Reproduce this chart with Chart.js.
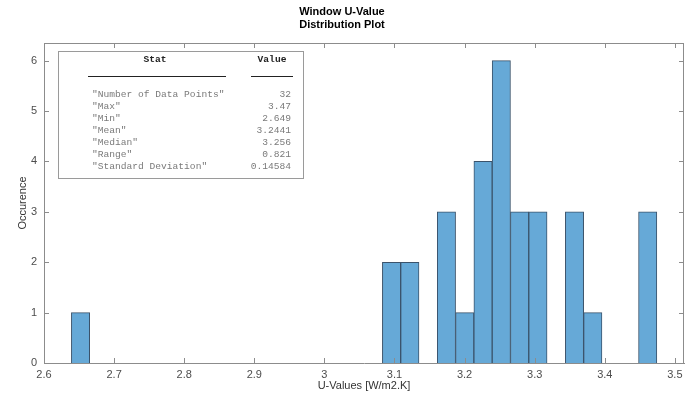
<!DOCTYPE html>
<html lang="en">
<head>
  <meta charset="UTF-8" />
  <title>Window U-Value Distribution Plot</title>
  <script src="https://cdn.jsdelivr.net/npm/chart.js@4.4.1/dist/chart.umd.min.js"></script>
  <style>html,body{margin:0;padding:0;background:#fff}</style>
</head>
<body>
  <canvas id="histChart" width="690" height="399"></canvas>
<script>
  // bin centres (W/m2.K) and how many windows fall in each bin
  const binCenters = [
    2.6521, 2.6782, 2.7043, 2.7304, 2.7565, 2.7826, 2.8087, 2.8348,
    2.8609, 2.8870, 2.9131, 2.9392, 2.9653, 2.9914, 3.0175, 3.0436,
    3.0697, 3.0958, 3.1219, 3.1480, 3.1741, 3.2002, 3.2263, 3.2524,
    3.2785, 3.3046, 3.3307, 3.3568, 3.3829, 3.4090, 3.4351, 3.4612
  ];
  const binCounts = [
    1, 0, 0, 0, 0, 0, 0, 0,
    0, 0, 0, 0, 0, 0, 0, 0,
    0, 2, 2, 0, 3, 1, 4, 6,
    3, 3, 0, 3, 1, 0, 0, 3
  ];
  const xTicks = [2.6, 2.7, 2.8, 2.9, 3, 3.1, 3.2, 3.3, 3.4, 3.5];
  const yTicks = [0, 1, 2, 3, 4, 5, 6];
  const statNames = ['"Number of Data Points"', '"Max"', '"Min"', '"Mean"', '"Median"', '"Range"', '"Standard Deviation"'];
  const statValues = ['32', '3.47', '2.649', '3.2441', '3.256', '0.821', '0.14584'];

  const AXIS = '#8c8c8c';
  const SANS = "'Liberation Sans', Arial, sans-serif";
  const MONO = "'Liberation Mono', 'DejaVu Sans Mono', monospace";

  // box ticks (inward, on all four sides) and the stats table
  const decorations = {
    id: 'decorations',
    afterDraw(chart) {
      const {ctx, chartArea: {left, right, top, bottom}, scales: {x, y}} = chart;
      ctx.save();
      ctx.strokeStyle = AXIS;
      ctx.lineWidth = 1;
      ctx.beginPath();
      ctx.moveTo(left, top + 0.5); ctx.lineTo(right, top + 0.5);
      ctx.moveTo(right - 0.5, top); ctx.lineTo(right - 0.5, bottom);
      xTicks.forEach(v => {
        const px = Math.round(x.getPixelForValue(v)) + 0.5;
        ctx.moveTo(px, bottom); ctx.lineTo(px, bottom - 5);
        ctx.moveTo(px, top); ctx.lineTo(px, top + 5);
      });
      yTicks.forEach(v => {
        const py = Math.round(y.getPixelForValue(v)) + 0.5;
        ctx.moveTo(left, py); ctx.lineTo(left + 5, py);
        ctx.moveTo(right, py); ctx.lineTo(right - 5, py);
      });
      ctx.stroke();

      // stats table
      ctx.fillStyle = '#fff';
      ctx.fillRect(58, 51, 245, 127);
      ctx.strokeStyle = '#9a9a9a';
      ctx.strokeRect(58.5, 51.5, 245, 127);
      ctx.fillStyle = '#222';
      ctx.font = 'bold 9.6px ' + MONO;
      ctx.textBaseline = 'middle';
      ctx.textAlign = 'center';
      ctx.fillText('Stat', 155, 60);
      ctx.fillText('Value', 272, 60);
      ctx.strokeStyle = '#222';
      ctx.lineWidth = 1.2;
      ctx.beginPath();
      ctx.moveTo(88, 76.5); ctx.lineTo(226, 76.5);
      ctx.moveTo(251, 76.5); ctx.lineTo(293, 76.5);
      ctx.stroke();
      ctx.font = '9.6px ' + MONO;
      ctx.fillStyle = '#7a7a7a';
      statNames.forEach((name, i) => {
        const ty = 94 + i * 12;
        ctx.textAlign = 'left';
        ctx.fillText(name, 92, ty);
        ctx.textAlign = 'right';
        ctx.fillText(statValues[i], 291, ty);
      });
      ctx.restore();
    }
  };

  new Chart(document.getElementById('histChart'), {
    type: 'bar',
    data: {
      datasets: [{
        data: binCenters.map((c, i) => ({x: c, y: binCounts[i] || null})),
        backgroundColor: '#66a9d7',
        borderColor: '#3b536b',
        borderWidth: 1,
        barPercentage: 1,
        categoryPercentage: 1
      }]
    },
    options: {
      responsive: false,
      animation: false,
      layout: {padding: {left: 0, right: 6, top: 0, bottom: 0}},
      plugins: {
        legend: {display: false},
        tooltip: {enabled: false},
        title: {
          display: true,
          text: ['Window U-Value', 'Distribution Plot'],
          color: '#000',
          font: {family: SANS, size: 11, weight: 'bold', lineHeight: 1.2},
          padding: {top: 5, bottom: 11.6}
        }
      },
      scales: {
        x: {
          type: 'linear',
          offset: false,
          min: 2.6,
          max: 3.513,
          grid: {display: false, drawTicks: false, offset: false},
          border: {display: true, color: AXIS, width: 1},
          ticks: {color: '#4d4d4d', font: {family: SANS, size: 11}, padding: 5, maxRotation: 0,
                  callback: v => String(Math.round(v * 10) / 10)},
          afterBuildTicks: s => { s.ticks = xTicks.map(v => ({value: v})); },
          afterFit: s => { s.height = 36; },
          title: {display: true, text: 'U-Values [W/m2.K]', color: '#333',
                  font: {family: SANS, size: 11}, padding: {top: 0, bottom: 6.4}}
        },
        y: {
          min: 0,
          max: 6.35,
          grid: {display: false, drawTicks: false},
          border: {display: true, color: AXIS, width: 1},
          ticks: {color: '#4d4d4d', font: {family: SANS, size: 11}, padding: 7},
          afterBuildTicks: s => { s.ticks = yTicks.map(v => ({value: v})); },
          afterFit: s => { s.width = 44; },
          title: {display: true, text: 'Occurence', color: '#333',
                  font: {family: SANS, size: 11}, padding: {top: 16.4, bottom: 0}}
        }
      }
    },
    plugins: [decorations]
  });
</script>
</body>
</html>
